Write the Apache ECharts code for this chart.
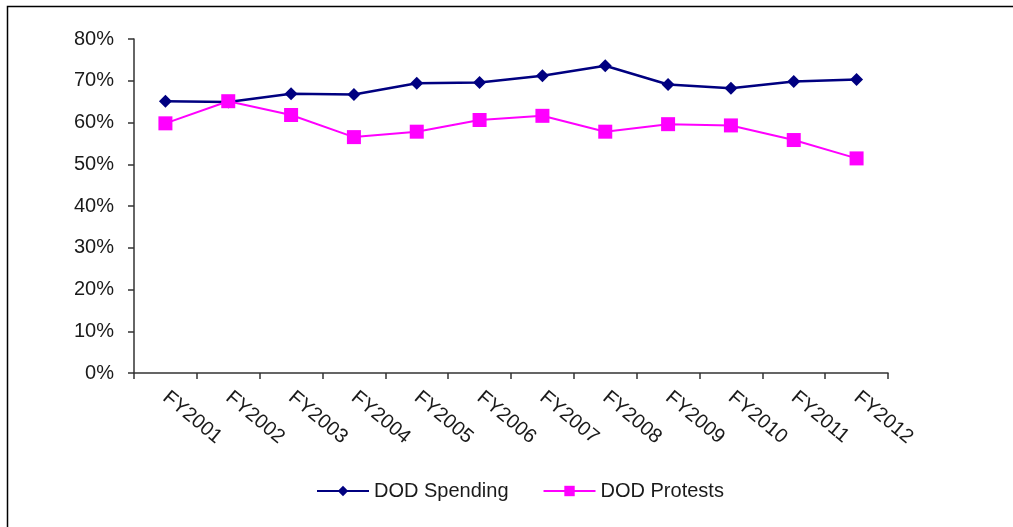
<!DOCTYPE html>
<html>
<head>
<meta charset="utf-8">
<script src="https://cdn.jsdelivr.net/npm/echarts@6/dist/echarts.min.js"></script>
<style>
html,body{margin:0;padding:0;background:#fff;}
#chart{width:1013px;height:527px;}
</style>
</head>
<body>
<div id="chart"></div>
<script>
const categories = ['FY2001','FY2002','FY2003','FY2004','FY2005','FY2006','FY2007','FY2008','FY2009','FY2010','FY2011','FY2012'];
const dodSpending = [65.1, 64.9, 66.9, 66.7, 69.4, 69.6, 71.2, 73.6, 69.1, 68.2, 69.8, 70.3];
const dodProtests = [59.8, 65.1, 61.8, 56.5, 57.8, 60.6, 61.6, 57.8, 59.6, 59.3, 55.8, 51.4];
const seriesNames = ['DOD Spending', 'DOD Protests'];

const chart = echarts.init(document.getElementById('chart'), null, {renderer: 'canvas'});
const font = 'Liberation Sans, Arial, sans-serif';
const textColor = '#1a1a1a';
chart.setOption({
  animation: false,
  textStyle: {fontFamily: font},
  graphic: [
    {type: 'polyline', shape: {points: [[7.5, 527], [7.5, 6.5], [1013, 6.5]]}, style: {stroke: '#000', lineWidth: 1.5, fill: null}}
  ],
  grid: {left: 134, right: 125, top: 39, bottom: 154, containLabel: false},
  legend: {
    bottom: 21,
    left: 311,
    itemWidth: 52,
    itemHeight: 13,
    itemGap: 34,
    textStyle: {fontFamily: font, fontSize: 20, color: textColor},
    data: seriesNames
  },
  xAxis: {
    type: 'category',
    data: categories,
    boundaryGap: true,
    axisLine: {lineStyle: {color: '#333', width: 1.5}},
    axisTick: {show: true, length: 6, lineStyle: {color: '#333', width: 1.5}},
    axisLabel: {rotate: -40, margin: 22, fontSize: 20, color: textColor, fontFamily: font, interval: 0}
  },
  yAxis: {
    type: 'value',
    min: 0, max: 80, interval: 10,
    splitLine: {show: false},
    axisLine: {show: true, lineStyle: {color: '#333', width: 1.5}},
    axisTick: {show: true, length: 6, lineStyle: {color: '#333', width: 1.5}},
    axisLabel: {formatter: '{value}%', margin: 20, fontSize: 20, color: textColor, fontFamily: font}
  },
  series: [
    {
      name: seriesNames[0], type: 'line', data: dodSpending,
      symbol: 'diamond', symbolSize: 13,
      lineStyle: {color: '#000080', width: 2.5},
      itemStyle: {color: '#000080'}
    },
    {
      name: seriesNames[1], type: 'line', data: dodProtests,
      symbol: 'rect', symbolSize: 14,
      lineStyle: {color: '#ff00ff', width: 2},
      itemStyle: {color: '#ff00ff'}
    }
  ]
});
</script>
</body>
</html>
